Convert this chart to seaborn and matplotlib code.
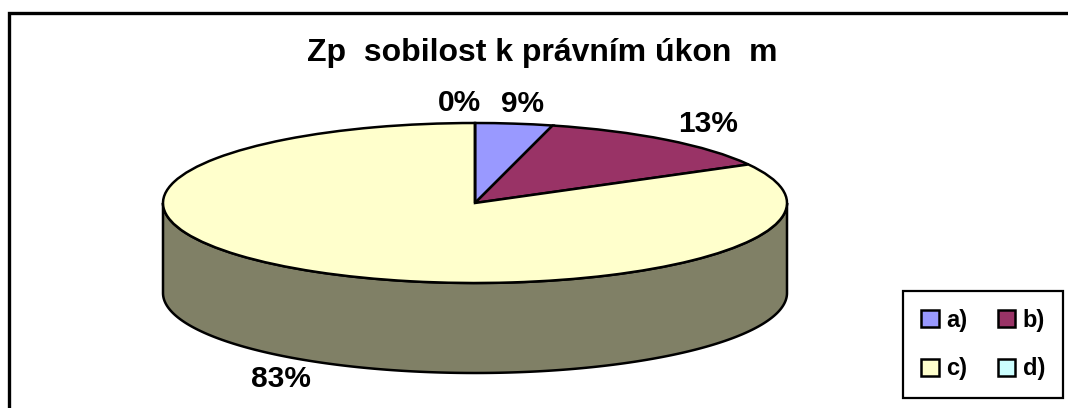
import numpy as np
import matplotlib
matplotlib.use("Agg")
import matplotlib.pyplot as plt
import matplotlib.colors as mcolors
from matplotlib.patches import Rectangle
import seaborn as sns

# data
categories = ["a)", "b)", "c)", "d)"]
shares = [4, 13, 83, 0]                    # slice sizes as drawn
label_texts = ["9%", "13%", "83%", "0%"]   # percentages printed on the chart
colors = ["#9999FF", "#993366", "#FFFFCC", "#CCFFFF"]
title = "Zp  sobilost k právním úkon  m"

sns.set_style("white")
plt.rcParams["font.family"] = ["Liberation Sans", "DejaVu Sans"]
plt.rcParams["text.color"] = "black"

W, H = 1068, 408
fig = plt.figure(figsize=(W / 100, H / 100), dpi=100)

# outer chart frame (runs off the right and bottom edge)
fig.patches.append(Rectangle((9 / W, -0.5), 2, 0.5 + (H - 13) / H, transform=fig.transFigure,
                             fill=False, edgecolor="black", linewidth=2.4))

# pie placement: centre, radii and wall height in pixels
cx, cy, rx, ry, wall = 475, 203, 312, 80, 90
depth = wall / ry
ax = fig.add_axes([(cx - rx) / W, (H - cy - ry - wall) / H, 2 * rx / W, (2 * ry + wall) / H])

wedges, _ = ax.pie(shares, colors=colors, startangle=90, counterclock=False,
                   wedgeprops=dict(edgecolor="black", linewidth=1.8), frame=False)
ax.set_aspect("auto")
ax.set_xlim(-1, 1)
ax.set_ylim(-1 - depth, 1)
ax.axis("off")
for w in wedges:
    w.set_clip_on(False)
    w.set_zorder(2)

# side wall for the front half of each slice
for w, col in zip(wedges, colors):
    for k in (-360, 0, 360):
        lo = max(w.theta1, -180 + k)
        hi = min(w.theta2, 0 + k)
        if hi <= lo:
            continue
        t = np.radians(np.linspace(lo, hi, 300))
        xs, ys = np.cos(t), np.sin(t)
        side = np.array(mcolors.to_rgb(col)) * 0.5
        ax.fill(np.concatenate([xs, xs[::-1]]), np.concatenate([ys, ys[::-1] - depth]),
                facecolor=side, edgecolor="black", linewidth=1.8, zorder=1, clip_on=False)

# percentage labels
for w, txt, val in zip(wedges, label_texts, shares):
    mid = np.radians((w.theta1 + w.theta2) / 2)
    x, y = 1.22 * np.cos(mid), 1.25 * np.sin(mid)
    if y < 0:
        y -= depth
    ax.text(x + (0.02 if val == 0 else 0), y, txt, ha="right" if val == 0 else "center",
            va="center", fontsize=21.5, fontweight="bold", clip_on=False)

fig.text(542 / W, 1 - 53 / H, title, ha="center", va="center", fontsize=23, fontweight="bold")

# legend filled row by row: a) b) / c) d)
order = [0, 2, 1, 3]
leg = fig.legend([wedges[i] for i in order], [categories[i] for i in order], ncol=2, loc="center",
                 bbox_to_anchor=(983 / W, 1 - 344.5 / H),
                 prop=dict(weight="bold", size=17), frameon=True, fancybox=False, framealpha=1,
                 edgecolor="black", handlelength=0.75, handleheight=0.75, handletextpad=0.3,
                 columnspacing=1.3, labelspacing=1.1, borderpad=0.75)
leg.get_frame().set_linewidth(1.6)

fig.savefig("out.png", dpi=100)
